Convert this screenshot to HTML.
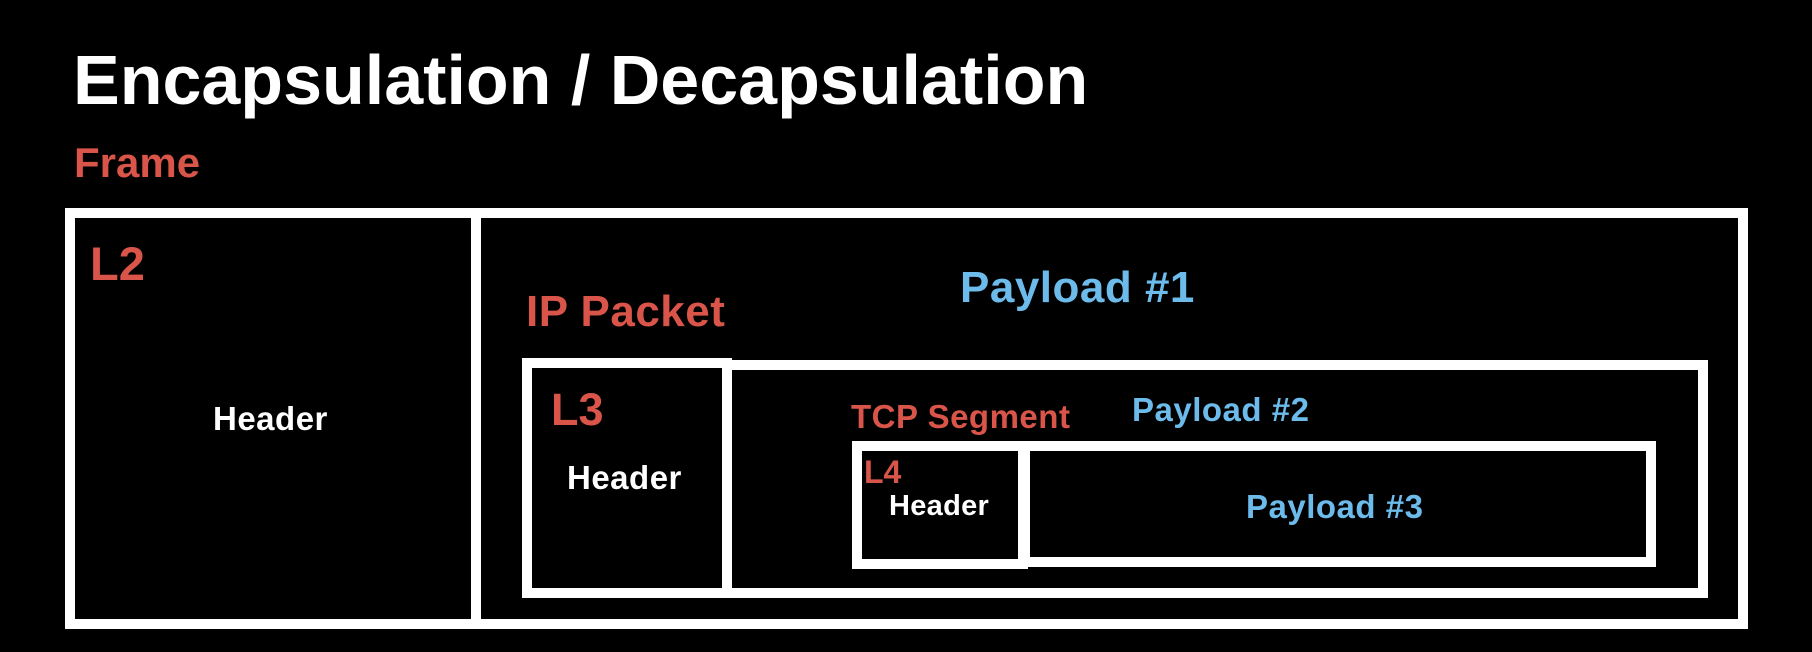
<!DOCTYPE html>
<html><head><meta charset="utf-8"><style>
html,body{margin:0;padding:0;background:#000;}
body{width:1812px;height:652px;position:relative;overflow:hidden;font-family:"Liberation Sans",sans-serif;font-weight:bold;}
.b{position:absolute;box-sizing:border-box;border:10px solid #fff;background:#000;}
.t{position:absolute;white-space:nowrap;line-height:1;}
.r{color:#d9554a;}.w{color:#fff;}.bl{color:#6cbbea;}
</style></head><body>
<div class="t w" style="left:73px;top:45px;font-size:70px;">Encapsulation / Decapsulation</div>
<div class="t r" style="left:74px;top:142px;font-size:42px;">Frame</div>

<div class="b" style="left:65px;top:208px;width:1683px;height:421px;"></div>
<div class="b" style="left:65px;top:208px;width:416px;height:421px;"></div>
<div class="t r" style="left:90px;top:240px;font-size:47px;">L2</div>
<div class="t w" style="left:213px;top:402px;font-size:33px;letter-spacing:0.5px;">Header</div>

<div class="t bl" style="left:960px;top:266px;font-size:44px;letter-spacing:0.5px;">Payload #1</div>
<div class="t r" style="left:526px;top:290px;font-size:44px;letter-spacing:0.5px;">IP Packet</div>

<div class="b" style="left:722px;top:360px;width:986px;height:238px;"></div>
<div class="b" style="left:522px;top:358px;width:210px;height:240px;"></div>
<div class="t r" style="left:551px;top:387px;font-size:45px;">L3</div>
<div class="t w" style="left:567px;top:461px;font-size:33px;letter-spacing:0.5px;">Header</div>

<div class="t r" style="left:851px;top:400px;font-size:33px;letter-spacing:0.5px;">TCP Segment</div>
<div class="t bl" style="left:1132px;top:393px;font-size:33px;letter-spacing:0.5px;">Payload #2</div>

<div class="b" style="left:1020px;top:441px;width:636px;height:126px;"></div>
<div class="b" style="left:852px;top:441px;width:176px;height:128px;"></div>
<div class="t r" style="left:864px;top:456px;font-size:32px;">L4</div>
<div class="t w" style="left:889px;top:492px;font-size:29px;letter-spacing:0.3px;">Header</div>
<div class="t bl" style="left:1246px;top:490px;font-size:33px;letter-spacing:0.5px;">Payload #3</div>
</body></html>
